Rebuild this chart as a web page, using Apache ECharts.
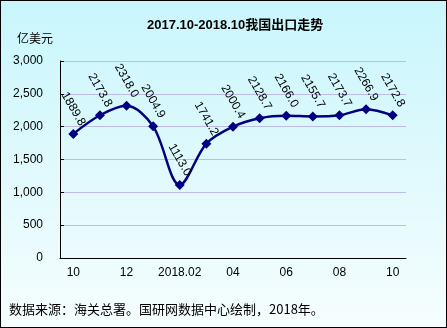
<!DOCTYPE html>
<html><head><meta charset="utf-8">
<script src="https://cdn.jsdelivr.net/npm/echarts@6/dist/echarts.min.js"></script>
<style>
html,body{margin:0;padding:0;}
#c{width:447px;height:328px;box-sizing:border-box;border:1px solid #000;background:linear-gradient(180deg,#c8f6fc 0%,#e4fafd 60%,#f6fefe 100%);}
</style></head><body>
<div id="c"></div>
<script>
const categories = ['10','11','12','2018.01','2018.02','03','04','05','06','07','08','09','10'];
const exportValues = [1889.8, 2173.8, 2318.0, 2004.9, 1113.0, 1741.2, 2000.4, 2128.7, 2166.0, 2155.7, 2173.7, 2266.9, 2172.8];
const yTicks = {min: 0, max: 3000, interval: 500};

const chart = echarts.init(document.getElementById('c'), null, {renderer: 'canvas'});
chart.setOption({
  backgroundColor: 'transparent',
  animation: false,
  title: {
    text: '2017.10-2018.10我国出口走势',
    left: 141, top: 13,
    textStyle: {fontFamily: 'Liberation Sans, Noto Sans CJK SC', fontSize: 13, fontWeight: 'bold', color: '#000'}
  },
  graphic: [
    {type: 'text', left: 16, top: 31, style: {text: '亿美元', font: '12px "Noto Sans CJK SC"', fill: '#000'}},
    {type: 'text', left: 8, top: 302, style: {text: '数据来源：海关总署。国研网数据中心绘制，2018年。', font: '13px "Noto Sans CJK SC"', fill: '#000'}}
  ],
  grid: {left: 59, right: 40, top: 60, bottom: 69},
  xAxis: {
    type: 'category',
    data: categories,
    boundaryGap: true,
    axisLine: {lineStyle: {color: '#000', width: 1}},
    axisTick: {inside: true, length: 4, lineStyle: {color: '#000'}},
    axisLabel: {interval: 1, margin: 9, color: '#000', fontSize: 12, fontFamily: 'Liberation Sans'}
  },
  yAxis: {
    type: 'value',
    min: yTicks.min, max: yTicks.max, interval: yTicks.interval,
    axisLine: {show: true, lineStyle: {color: '#000', width: 1}},
    axisTick: {show: true, inside: true, length: 4, lineStyle: {color: '#000'}},
    splitLine: {lineStyle: {color: '#bcbce8', width: 1}},
    axisLabel: {margin: 17, color: '#000', fontSize: 12, fontFamily: 'Liberation Sans',
      formatter: v => v.toLocaleString('en-US')}
  },
  series: [{
    type: 'line',
    data: exportValues,
    smooth: 0.33,
    symbol: 'diamond',
    symbolSize: 10,
    lineStyle: {color: '#000080', width: 2.5},
    itemStyle: {color: '#000080'},
    label: {
      show: true,
      position: 'top',
      distance: 20,
      rotate: -60,
      align: 'center',
      verticalAlign: 'middle',
      color: '#000',
      fontSize: 12,
      fontFamily: 'Liberation Sans',
      formatter: p => p.value.toFixed(1)
    }
  }]
});
</script>
</body></html>
